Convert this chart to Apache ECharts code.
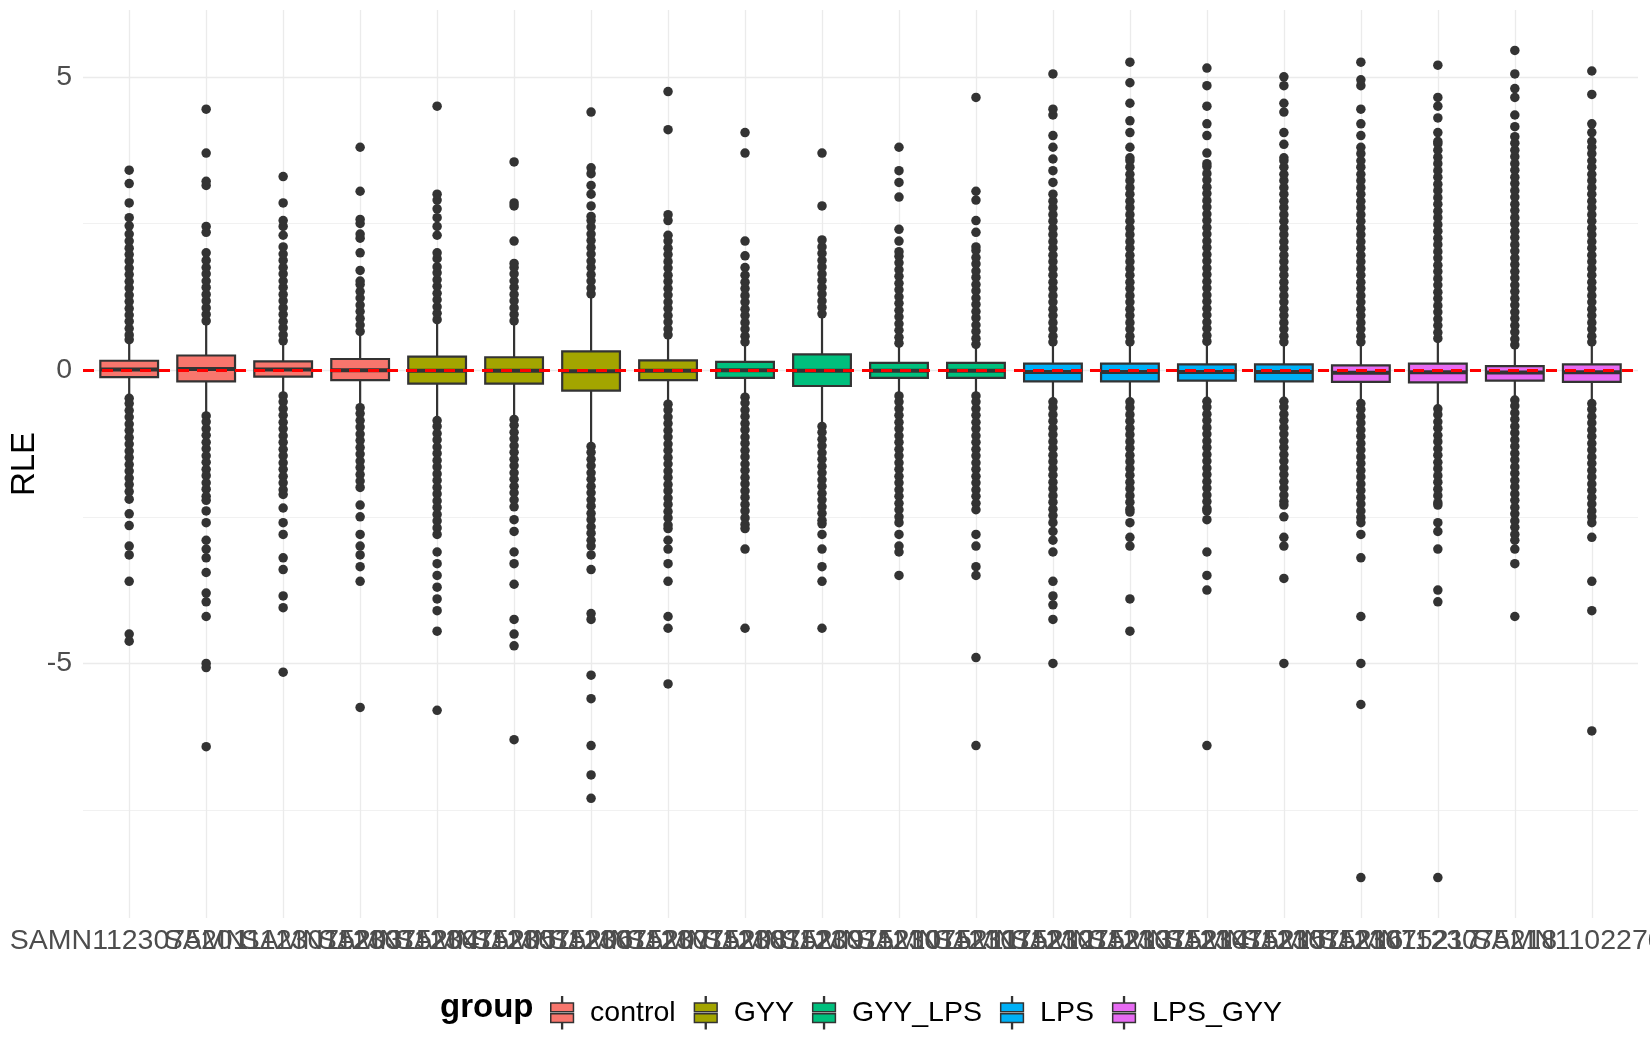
<!DOCTYPE html>
<html>
<head>
<meta charset="utf-8">
<script src="https://cdn.jsdelivr.net/npm/echarts@6/dist/echarts.min.js"></script>
<style>
  html, body { margin: 0; padding: 0; background: #fff; }
  #container { width: 1650px; height: 1050px; }
</style>
</head>
<body>
<div id="container"></div>
<script>
// samples on the x axis, in plotting order
var samples = [
  'SAMN1123075201', 'SAMN1123075202', 'SAMN1123075203', 'SAMN1123075204', 'SAMN1123075205',
  'SAMN1123075206', 'SAMN1123075207', 'SAMN1123075208', 'SAMN1123075209', 'SAMN1123075210',
  'SAMN1123075211', 'SAMN1123075212', 'SAMN1123075213', 'SAMN1123075214', 'SAMN1123075215',
  'SAMN1123075216', 'SAMN1123075217', 'SAMN1123075218', 'SAMN1123075219', 'SAMN1102270220'
];
var sampleGroup = [
  'control', 'control', 'control', 'control',
  'GYY', 'GYY', 'GYY', 'GYY',
  'GYY_LPS', 'GYY_LPS', 'GYY_LPS', 'GYY_LPS',
  'LPS', 'LPS', 'LPS', 'LPS',
  'LPS_GYY', 'LPS_GYY', 'LPS_GYY', 'LPS_GYY'
];
var groups = ['control', 'GYY', 'GYY_LPS', 'LPS', 'LPS_GYY'];
var groupColors = ['#F8766D', '#A3A500', '#00BF7D', '#00B0F6', '#E76BF3'];

// box statistics per sample (RLE)
var whiskerLow  = [-0.43, -0.74, -0.40, -0.60, -0.82, -0.80, -1.25, -0.54, -0.43, -0.92, -0.40, -0.40, -0.51, -0.51, -0.51, -0.51, -0.54, -0.63, -0.48, -0.54];
var q1          = [-0.12, -0.19, -0.11, -0.17, -0.23, -0.23, -0.35, -0.17, -0.13, -0.27, -0.13, -0.13, -0.19, -0.19, -0.18, -0.19, -0.20, -0.21, -0.18, -0.20];
var median      = [0.01, 0.02, 0.01, 0.00, -0.01, -0.01, -0.02, -0.01, 0.00, -0.01, -0.01, -0.01, -0.03, -0.03, -0.03, -0.03, -0.045, -0.035, -0.04, -0.035];
var q3          = [0.16, 0.25, 0.15, 0.19, 0.23, 0.22, 0.32, 0.165, 0.14, 0.27, 0.125, 0.125, 0.11, 0.11, 0.10, 0.10, 0.08, 0.11, 0.07, 0.10];
var whiskerHigh = [0.46, 0.80, 0.46, 0.63, 0.82, 0.80, 1.25, 0.57, 0.45, 0.92, 0.43, 0.40, 0.45, 0.45, 0.45, 0.45, 0.45, 0.51, 0.40, 0.45];

// outlying points per sample
var outliers = [
  [0.52,0.6,0.71,0.83,0.94,1.05,1.17,1.28,1.4,1.51,1.63,1.74,1.86,1.97,2.08,2.2,2.32,2.46,2.6,2.85,3.18,3.41,
   -0.48,-0.57,-0.69,-0.8,-0.92,-1.03,-1.15,-1.26,-1.38,-1.49,-1.61,-1.72,-1.84,-1.95,-2.07,-2.2,-2.45,-2.65,-3.0,-3.15,-3.6,-4.5,-4.62],
  [0.84,0.95,1.06,1.18,1.29,1.41,1.52,1.64,1.75,1.87,2.0,2.35,2.45,3.15,3.22,3.7,4.45,
   -0.78,-0.88,-1.0,-1.11,-1.23,-1.34,-1.46,-1.57,-1.69,-1.8,-1.92,-2.03,-2.15,-2.22,-2.4,-2.6,-2.9,-3.05,-3.2,-3.45,-3.8,-3.95,-4.2,-5.0,-5.07,-6.42],
  [0.5,0.6,0.72,0.83,0.95,1.06,1.18,1.29,1.41,1.52,1.64,1.75,1.87,1.98,2.1,2.3,2.45,2.55,2.85,3.3,
   -0.44,-0.54,-0.66,-0.77,-0.89,-1.0,-1.12,-1.23,-1.35,-1.46,-1.58,-1.69,-1.81,-1.92,-2.04,-2.12,-2.35,-2.6,-2.8,-3.2,-3.4,-3.85,-4.05,-5.15],
  [0.66,0.77,0.88,1.0,1.11,1.23,1.34,1.46,1.52,1.7,2.0,2.25,2.32,2.5,2.57,3.05,3.8,
   -0.64,-0.74,-0.86,-0.97,-1.09,-1.2,-1.32,-1.43,-1.55,-1.66,-1.78,-1.89,-2.0,-2.3,-2.5,-2.8,-3.0,-3.15,-3.35,-3.6,-5.75],
  [0.86,0.97,1.08,1.2,1.31,1.43,1.54,1.66,1.76,1.9,2.0,2.3,2.45,2.6,2.75,2.9,3.0,4.5,
   -0.86,-0.96,-1.08,-1.19,-1.31,-1.42,-1.54,-1.65,-1.77,-1.88,-2.0,-2.11,-2.23,-2.34,-2.46,-2.57,-2.69,-2.8,-3.1,-3.3,-3.5,-3.7,-3.9,-4.1,-4.45,-5.8],
  [0.84,0.95,1.06,1.18,1.29,1.41,1.52,1.64,1.75,1.82,2.2,2.8,2.85,3.55,
   -0.84,-0.94,-1.06,-1.17,-1.29,-1.4,-1.52,-1.63,-1.75,-1.86,-1.98,-2.09,-2.21,-2.33,-2.55,-2.75,-3.1,-3.3,-3.65,-4.25,-4.5,-4.7,-6.3],
  [1.3,1.4,1.52,1.63,1.75,1.86,1.98,2.09,2.21,2.32,2.44,2.55,2.62,2.8,3.0,3.15,3.35,3.45,4.4,
   -1.3,-1.4,-1.52,-1.63,-1.75,-1.86,-1.98,-2.09,-2.21,-2.32,-2.44,-2.55,-2.67,-2.78,-2.9,-3.0,-3.15,-3.4,-4.15,-4.25,-5.2,-5.6,-6.4,-6.9,-7.3],
  [0.6,0.7,0.82,0.93,1.05,1.16,1.28,1.39,1.51,1.62,1.74,1.85,1.97,2.08,2.2,2.3,2.55,2.65,4.1,4.75,
   -0.58,-0.68,-0.8,-0.91,-1.03,-1.14,-1.26,-1.37,-1.49,-1.6,-1.72,-1.83,-1.95,-2.06,-2.18,-2.29,-2.41,-2.52,-2.64,-2.7,-2.9,-3.05,-3.3,-3.6,-4.2,-4.4,-5.35],
  [0.48,0.58,0.7,0.81,0.93,1.04,1.16,1.27,1.39,1.5,1.62,1.75,1.95,2.2,3.7,4.05,
   -0.46,-0.56,-0.68,-0.79,-0.91,-1.02,-1.14,-1.25,-1.37,-1.48,-1.6,-1.71,-1.83,-1.94,-2.06,-2.17,-2.29,-2.4,-2.52,-2.63,-2.7,-3.05,-4.4],
  [0.96,1.07,1.18,1.3,1.41,1.53,1.64,1.76,1.87,1.99,2.1,2.22,2.8,3.7,
   -0.96,-1.06,-1.18,-1.29,-1.41,-1.52,-1.64,-1.75,-1.87,-1.98,-2.1,-2.21,-2.33,-2.44,-2.56,-2.62,-2.8,-3.05,-3.35,-3.6,-4.4],
  [0.46,0.56,0.68,0.79,0.91,1.02,1.14,1.25,1.37,1.48,1.6,1.71,1.83,1.94,2.02,2.2,2.4,2.95,3.2,3.4,3.8,
   -0.44,-0.54,-0.66,-0.77,-0.89,-1.0,-1.12,-1.23,-1.35,-1.46,-1.58,-1.69,-1.81,-1.92,-2.04,-2.15,-2.27,-2.38,-2.5,-2.6,-2.8,-3.0,-3.1,-3.5],
  [0.44,0.54,0.66,0.77,0.89,1.0,1.12,1.23,1.35,1.46,1.58,1.69,1.81,1.92,2.04,2.1,2.35,2.55,2.9,3.05,4.65,
   -0.44,-0.54,-0.66,-0.77,-0.89,-1.0,-1.12,-1.23,-1.35,-1.46,-1.58,-1.69,-1.81,-1.92,-2.04,-2.15,-2.27,-2.38,-2.8,-3.0,-3.35,-3.5,-4.9,-6.4],
  [0.48,0.58,0.7,0.81,0.93,1.04,1.16,1.27,1.39,1.5,1.62,1.73,1.85,1.96,2.08,2.19,2.31,2.42,2.54,2.65,2.77,2.88,3.0,3.2,3.4,3.6,3.8,4.0,4.35,4.45,5.05,
   -0.54,-0.64,-0.76,-0.87,-0.99,-1.1,-1.22,-1.33,-1.45,-1.56,-1.68,-1.79,-1.91,-2.02,-2.14,-2.25,-2.37,-2.48,-2.6,-2.75,-2.9,-3.1,-3.6,-3.85,-4.0,-4.25,-5.0],
  [0.48,0.58,0.7,0.81,0.93,1.04,1.16,1.27,1.39,1.5,1.62,1.73,1.85,1.96,2.08,2.19,2.31,2.42,2.54,2.65,2.77,2.88,3.0,3.11,3.23,3.34,3.46,3.57,3.62,3.8,4.05,4.25,4.55,4.9,5.25,
   -0.54,-0.64,-0.76,-0.87,-0.99,-1.1,-1.22,-1.33,-1.45,-1.56,-1.68,-1.79,-1.91,-2.02,-2.14,-2.25,-2.37,-2.42,-2.6,-2.85,-3.0,-3.9,-4.45],
  [0.49,0.59,0.71,0.82,0.94,1.05,1.17,1.28,1.4,1.51,1.63,1.74,1.86,1.97,2.09,2.2,2.32,2.43,2.55,2.66,2.78,2.89,3.01,3.12,3.24,3.35,3.47,3.52,3.7,4.0,4.2,4.5,4.85,5.15,
   -0.53,-0.63,-0.75,-0.86,-0.98,-1.09,-1.21,-1.32,-1.44,-1.55,-1.67,-1.78,-1.9,-2.01,-2.13,-2.24,-2.36,-2.4,-2.55,-3.1,-3.5,-3.75,-6.4],
  [0.48,0.58,0.7,0.81,0.93,1.04,1.16,1.27,1.39,1.5,1.62,1.73,1.85,1.96,2.08,2.19,2.31,2.42,2.54,2.65,2.77,2.88,3.0,3.11,3.23,3.34,3.46,3.57,3.62,3.85,4.05,4.4,4.55,4.85,5.0,
   -0.53,-0.63,-0.75,-0.86,-0.98,-1.09,-1.21,-1.32,-1.44,-1.55,-1.67,-1.78,-1.9,-2.01,-2.13,-2.24,-2.3,-2.5,-2.85,-3.0,-3.55,-5.0],
  [0.48,0.58,0.7,0.81,0.93,1.04,1.16,1.27,1.39,1.5,1.62,1.73,1.85,1.96,2.08,2.19,2.31,2.42,2.54,2.65,2.77,2.88,3.0,3.11,3.23,3.34,3.46,3.57,3.69,3.8,4.0,4.2,4.45,4.85,4.95,5.25,
   -0.57,-0.67,-0.79,-0.9,-1.02,-1.13,-1.25,-1.36,-1.48,-1.59,-1.71,-1.82,-1.94,-2.05,-2.17,-2.28,-2.4,-2.51,-2.6,-2.8,-3.2,-4.2,-5.0,-5.7,-8.65],
  [0.54,0.64,0.76,0.87,0.99,1.1,1.22,1.33,1.45,1.56,1.68,1.79,1.91,2.02,2.14,2.25,2.37,2.48,2.6,2.71,2.83,2.94,3.06,3.17,3.29,3.4,3.52,3.63,3.75,3.86,3.9,4.05,4.3,4.5,4.65,5.2,
   -0.66,-0.76,-0.88,-0.99,-1.11,-1.22,-1.34,-1.45,-1.57,-1.68,-1.8,-1.91,-2.03,-2.14,-2.26,-2.3,-2.6,-2.75,-3.05,-3.75,-3.95,-8.65],
  [0.43,0.53,0.65,0.76,0.88,0.99,1.11,1.22,1.34,1.45,1.57,1.68,1.8,1.91,2.03,2.14,2.26,2.37,2.49,2.6,2.72,2.83,2.95,3.06,3.18,3.29,3.41,3.52,3.64,3.75,3.87,3.98,4.15,4.35,4.65,4.8,5.05,5.45,
   -0.51,-0.61,-0.73,-0.84,-0.96,-1.07,-1.19,-1.3,-1.42,-1.53,-1.65,-1.76,-1.88,-1.99,-2.11,-2.22,-2.34,-2.45,-2.57,-2.68,-2.8,-2.9,-3.05,-3.3,-4.2],
  [0.48,0.58,0.7,0.81,0.93,1.04,1.16,1.27,1.39,1.5,1.62,1.73,1.85,1.96,2.08,2.19,2.31,2.42,2.54,2.65,2.77,2.88,3.0,3.11,3.23,3.34,3.46,3.57,3.69,3.8,3.9,4.05,4.2,4.7,5.1,
   -0.57,-0.67,-0.79,-0.9,-1.02,-1.13,-1.25,-1.36,-1.48,-1.59,-1.71,-1.82,-1.94,-2.05,-2.17,-2.28,-2.4,-2.5,-2.6,-2.85,-3.6,-4.1,-6.15]
];

var yTicks = [-5, 0, 5];
var yMinorTicks = [-7.5, -2.5, 2.5];
var yRange = [-9.34, 6.14];
</script>
<script>
(function(){
    var dom = document.getElementById('container');
    var myChart = echarts.init(dom);

    var xPositions = samples.map(function(s, i){ return i + 1; });

    // one custom series per group, so the legend gets one entry each
    var renderBox = function(params, api){
        var x = api.value(0);
        var left = api.coord([x - 0.375, 0])[0];
        var right = api.coord([x + 0.375, 0])[0];
        var cx = api.coord([x, 0])[0];
        var yLow = api.coord([x, api.value(1)])[1];
        var yQ1 = api.coord([x, api.value(2)])[1];
        var yMed = api.coord([x, api.value(3)])[1];
        var yQ3 = api.coord([x, api.value(4)])[1];
        var yHigh = api.coord([x, api.value(5)])[1];
        var line = { stroke: '#333333', lineWidth: 2.2 };
        return {
            type: 'group',
            children: [
                { type: 'line', shape: { x1: cx, y1: yHigh, x2: cx, y2: yQ3 }, style: line },
                { type: 'line', shape: { x1: cx, y1: yQ1, x2: cx, y2: yLow }, style: line },
                { type: 'rect', shape: { x: left, y: yQ3, width: right - left, height: yQ1 - yQ3 },
                  style: { fill: api.visual('color'), stroke: '#333333', lineWidth: 2.2 } },
                { type: 'line', shape: { x1: left, y1: yMed, x2: right, y2: yMed },
                  style: { stroke: '#333333', lineWidth: 4 } }
            ]
        };
    };

    var gridLines = [];
    yTicks.forEach(function(v){ gridLines.push({ yAxis: v, lineStyle: { width: 1.3 } }); });
    yMinorTicks.forEach(function(v){ gridLines.push({ yAxis: v, lineStyle: { width: 0.7 } }); });
    xPositions.forEach(function(v){ gridLines.push({ xAxis: v, lineStyle: { width: 1.3 } }); });

    var series = groups.map(function(g, gi){
        var data = [];
        for (var i = 0; i < samples.length; i++) {
            if (sampleGroup[i] === g) {
                data.push([i + 1, whiskerLow[i], q1[i], median[i], q3[i], whiskerHigh[i]]);
            }
        }
        var s = {
            name: g,
            type: 'custom',
            renderItem: renderBox,
            itemStyle: { color: groupColors[gi], borderColor: '#333333', borderWidth: 1.5 },
            encode: { x: 0, y: [1, 2, 3, 4, 5] },
            data: data,
            z: 2
        };
        if (gi === 0) {
            s.markLine = {
                silent: true,
                symbol: 'none',
                z: 1,
                label: { show: false },
                lineStyle: { color: '#EBEBEB', type: 'solid' },
                data: gridLines
            };
        }
        return s;
    });

    var points = [];
    outliers.forEach(function(arr, i){
        arr.forEach(function(v){ points.push([i + 1, v]); });
    });

    series.push({
        name: 'outlier',
        type: 'scatter',
        data: points,
        symbolSize: 9.5,
        itemStyle: { color: '#333333', opacity: 1 },
        z: 3,
        markLine: {
            silent: true,
            symbol: 'none',
            z: 6,
            label: { show: false },
            lineStyle: { color: '#FF0000', type: [11, 8], width: 3 },
            data: [{ yAxis: 0 }]
        }
    });

    var option = {
        animation: false,
        backgroundColor: '#ffffff',
        textStyle: { fontFamily: 'Liberation Sans' },
        title: {
            text: 'group',
            left: 435,
            top: 986,
            textStyle: { fontSize: 33, fontWeight: 'bold', color: '#000000', fontFamily: 'Liberation Sans' }
        },
        legend: {
            data: groups,
            left: 545,
            top: 991,
            itemWidth: 24,
            itemHeight: 32,
            itemGap: 18,
            selectedMode: false,
            icon: 'path://M11.6 0h0.8v6h-0.8zM1 6h22v8.6H1zM1 16.4h22v8.6H1zM11.6 25h0.8v6h-0.8z',
            itemStyle: { borderColor: '#333333', borderWidth: 1.5 },
            textStyle: { fontSize: 28.5, color: '#000000', padding: [0, 0, 0, 11], fontFamily: 'Liberation Sans' }
        },
        grid: { left: 83, right: 12, top: 10, bottom: 132, containLabel: false, outerBoundsMode: 'none' },
        xAxis: {
            type: 'value',
            min: 0.4,
            max: 20.6,
            axisLine: { show: false },
            axisTick: { show: false },
            splitLine: { show: false },
            axisLabel: {
                customValues: xPositions,
                formatter: function(v){ return samples[Math.round(v) - 1]; },
                fontSize: 28.5,
                color: '#4D4D4D',
                margin: 9,
                hideOverlap: false,
                showMinLabel: true,
                showMaxLabel: true,
                alignMinLabel: 'center',
                alignMaxLabel: 'center'
            }
        },
        yAxis: {
            type: 'value',
            min: yRange[0],
            max: yRange[1],
            name: 'RLE',
            nameLocation: 'middle',
            nameGap: 42,
            nameMoveOverlap: false,
            nameTextStyle: { fontSize: 33, color: '#000000' },
            axisLine: { show: false },
            axisTick: { show: false },
            splitLine: { show: false },
            axisLabel: {
                customValues: yTicks,
                fontSize: 28.5,
                color: '#4D4D4D',
                margin: 11
            }
        },
        series: series
    };

    myChart.setOption(option, true);
})();
</script>
</body>
</html>
